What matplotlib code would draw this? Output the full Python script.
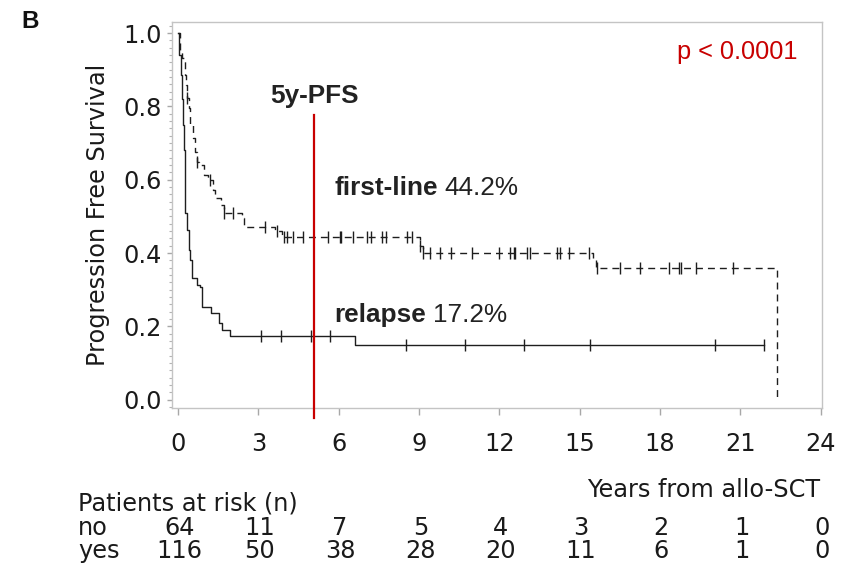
import numpy as np
import matplotlib
matplotlib.use("Agg")
import matplotlib.pyplot as plt
from matplotlib.ticker import MultipleLocator
import matplotlib.transforms as mtransforms

plt.rcParams['font.family'] = ['DejaVu Sans']
FS = 17.3
plt.rcParams['font.size'] = FS

# ---------------- data ----------------
# relapse group ("no", n = 64): step times (years) and survival after each step
no_times = [0.05, 0.10, 0.15, 0.20, 0.23, 0.26, 0.27, 0.28, 0.34, 0.40, 0.46, 0.52,
            0.71, 0.83, 0.90, 1.24, 1.52, 1.64, 1.95, 6.61]
no_surv = [0.94, 0.886, 0.82, 0.749, 0.68, 0.613, 0.56, 0.51, 0.463, 0.409, 0.381, 0.332,
           0.313, 0.308, 0.253, 0.237, 0.210, 0.191, 0.174, 0.150]
no_censor = [3.10, 3.85, 4.96, 5.66, 8.52, 10.73, 12.93, 15.40, 20.05, 21.88]
no_end = 21.88

# first-line group ("yes", n = 116)
yes_times = [0.09, 0.15, 0.25, 0.30, 0.32, 0.40, 0.46, 0.55, 0.65, 0.71, 0.77, 0.96,
             1.12, 1.30, 1.38, 1.60, 1.70, 2.39, 2.45, 2.50, 3.62, 3.87, 9.05, 9.15,
             15.49, 15.60, 22.37]
yes_surv = [0.949, 0.932, 0.886, 0.858, 0.823, 0.796, 0.749, 0.714, 0.676, 0.649, 0.640, 0.613,
            0.599, 0.572, 0.550, 0.530, 0.510, 0.496, 0.477, 0.471, 0.459, 0.445, 0.420, 0.400,
            0.385, 0.359, 0.0]
yes_censor = [0.32, 0.71, 1.18, 1.70, 2.06, 3.25, 3.69, 3.94, 4.06, 4.31, 4.68, 5.62,
              6.04, 6.07, 6.53, 7.05, 7.21, 7.61, 7.78, 8.55, 8.74, 9.05, 9.16, 9.42,
              9.79, 10.19, 10.98, 11.97, 12.41, 12.53, 12.60, 13.04, 13.16, 14.16, 14.28,
              14.59, 15.34, 15.63, 16.52, 17.24, 18.33, 18.70, 18.79, 19.33, 20.74]

risk_times = [0, 3, 6, 9, 12, 15, 18, 21, 24]
risk_no = [64, 11, 7, 5, 4, 3, 2, 1, 0]
risk_yes = [116, 50, 38, 28, 20, 11, 6, 1, 0]
risk_rows = ["no", "yes"]

x_ticks = [0, 3, 6, 9, 12, 15, 18, 21, 24]
y_ticks = [0.0, 0.2, 0.4, 0.6, 0.8, 1.0]
y_ticklabels = ["0.0", "0.2", "0.4", "0.6", "0.8", "1.0"]

pfs_year = 5.08
pfs_no = "17.2%"
pfs_yes = "44.2%"
p_text = "p < 0.0001"

# ---------------- helpers ----------------
def surv_at(t, times, surv):
    idx = np.searchsorted(times, t, side='right') - 1
    return 1.0 if idx < 0 else surv[idx]

LINE = '#1e1e1e'
RED = '#c80000'
TXT = '#1a1a1a'

fig = plt.figure(figsize=(8.41, 5.68), dpi=100)
W, H = 841, 568
ax = fig.add_axes([172 / W, 1 - 408 / H, 650 / W, 386 / H])

ax.set_xlim(-0.224, 24.05)
ax.set_ylim(-0.0226, 1.030)

# relapse (solid)
xs = [0.0] + no_times + [no_end]
ys = [1.0] + no_surv + [no_surv[-1]]
ax.step(xs, ys, where='post', color=LINE, lw=1.0)
ax.plot(no_censor, [surv_at(t, no_times, no_surv) for t in no_censor],
        ls='none', marker='|', ms=9, mew=1.0, color=LINE)

# first-line (dashed)
xs = [0.0] + yes_times
ys = [1.0] + yes_surv
ax.step(xs, ys, where='post', color=LINE, lw=1.0, dashes=(5, 3.6))
ax.plot(yes_censor, [surv_at(t, yes_times, yes_surv) for t in yes_censor],
        ls='none', marker='|', ms=9, mew=1.0, color=LINE)

# 5-year reference line
ax.plot([pfs_year, pfs_year], [-0.049, 0.777], color=RED, lw=1.6, clip_on=False, zorder=5)

ANN = ['Liberation Sans', 'DejaVu Sans']
AFS = 18.8
ax.text(pfs_year, 0.808, "5y-PFS", ha='center', va='baseline', fontsize=AFS,
        fontweight='bold', family=ANN, color='#222222')

t1 = ax.text(5.83, 0.559, "first-line", ha='left', va='baseline', fontsize=AFS,
             fontweight='bold', family=ANN, color='#222222')
ax.annotate(pfs_yes, xy=(1, 0), xycoords=t1, xytext=(5, 0), textcoords='offset points',
            ha='left', va='bottom', fontsize=AFS, family=ANN, color='#222222')
t2 = ax.text(5.83, 0.211, "relapse", ha='left', va='baseline', fontsize=AFS,
             fontweight='bold', family=ANN, color='#222222')
ax.annotate(pfs_no, xy=(1, 0), xycoords=t2, xytext=(5, 0), textcoords='offset points',
            ha='left', va='bottom', fontsize=AFS, family=ANN, color='#222222')

ax.text(23.14, 0.928, p_text, ha='right', va='baseline', fontsize=18.3, family=ANN, color=RED)

# axes styling
for s in ax.spines.values():
    s.set_color('#c4c4c4')
    s.set_linewidth(1.0)
ax.set_xticks(x_ticks)
ax.set_xticklabels([str(v) for v in x_ticks])
ax.set_yticks(y_ticks)
ax.set_yticklabels(y_ticklabels)
ax.yaxis.set_minor_locator(MultipleLocator(0.02))
ax.tick_params(axis='x', which='major', length=5, width=1, color='#a8a8a8', pad=12,
               labelcolor=TXT, labelsize=FS)
ax.tick_params(axis='y', which='major', length=3.6, width=1, color='#a8a8a8', pad=3.6,
               labelcolor=TXT, labelsize=FS)
ax.tick_params(axis='y', which='minor', length=2.2, width=0.8, color='#b4b4b4')
ax.set_ylabel("Progression Free Survival", fontsize=FS, color=TXT, labelpad=10)

# panel letter
fig.text(21 / W, 1 - 28 / H, "B", fontsize=17.5, fontweight='bold', family=ANN,
         ha='left', va='baseline', color='#111111')

# x label and risk table
fig.text(820 / W, 1 - 490 / H, "Years from allo-SCT", ha='right', va='center',
         fontsize=FS, color=TXT)
fig.text(78 / W, 1 - 503 / H, "Patients at risk (n)", ha='left', va='center',
         fontsize=FS, color=TXT)
trans = mtransforms.blended_transform_factory(ax.transData, fig.transFigure)
for row, vals, ypx in [(risk_rows[0], risk_no, 528), (risk_rows[1], risk_yes, 551)]:
    fig.text(78 / W, 1 - ypx / H, row, ha='left', va='center', fontsize=FS, color=TXT)
    for t, v in zip(risk_times, vals):
        ax.text(t + 0.05, 1 - ypx / H, str(v), transform=trans, ha='center', va='center',
                fontsize=FS, color=TXT, clip_on=False)

fig.savefig("out.png", dpi=100)
